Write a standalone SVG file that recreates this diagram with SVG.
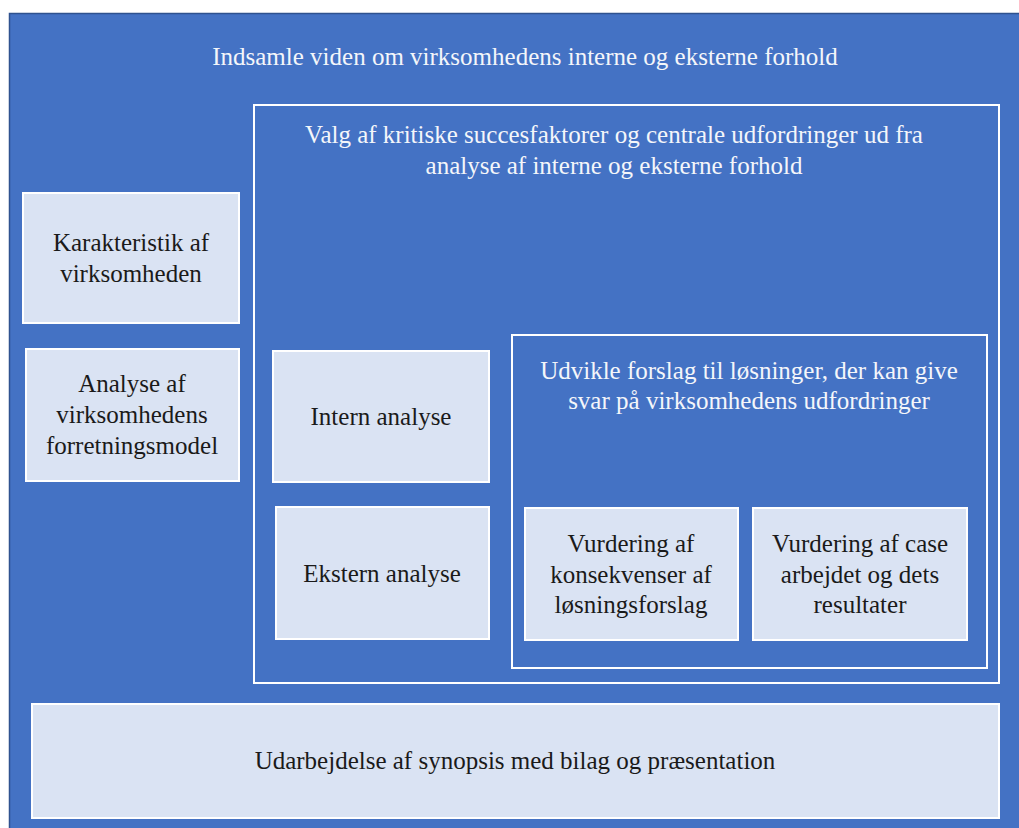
<svg xmlns="http://www.w3.org/2000/svg" width="1019" height="828" viewBox="0 0 1019 828">
<style>
.bg{fill:#4472C4;stroke:#2F528F;stroke-width:1.5}
.frame{fill:none;stroke:#FFFFFF;stroke-width:2}
.box{fill:#DAE3F3;stroke:#FFFFFF;stroke-width:2}
text{font-family:'Liberation Serif','Times New Roman','DejaVu Serif',serif;font-size:25px;text-anchor:middle}
.lt{fill:#F4F6FA}
.dk{fill:#1A1A1A}
</style>
<rect width="1019" height="828" fill="#FFFFFF"/>
<g id="outer">
<rect class="bg" x="9.5" y="13.5" width="1015" height="820"/>
<text class="lt" x="525" y="65">Indsamle viden om virksomhedens interne og eksterne forhold</text>
</g>
<g id="valg">
<rect class="frame" x="254" y="105" width="745" height="578"/>
<text class="lt" x="614" y="143">Valg af kritiske succesfaktorer og centrale udfordringer ud fra</text>
<text class="lt" x="614" y="174">analyse af interne og eksterne forhold</text>
</g>
<g id="udvikle">
<rect class="frame" x="512" y="335" width="475" height="333"/>
<text class="lt" x="749" y="379">Udvikle forslag til løsninger, der kan give</text>
<text class="lt" x="749" y="409">svar på virksomhedens udfordringer</text>
</g>
<g id="karakteristik">
<rect class="box" x="23" y="193" width="216" height="130"/>
<text class="dk" x="131" y="251">Karakteristik af</text>
<text class="dk" x="131" y="282">virksomheden</text>
</g>
<g id="forretningsmodel">
<rect class="box" x="26" y="349" width="213" height="132"/>
<text class="dk" x="132" y="392">Analyse af</text>
<text class="dk" x="132" y="423">virksomhedens</text>
<text class="dk" x="132" y="454">forretningsmodel</text>
</g>
<g id="intern">
<rect class="box" x="273" y="351" width="216" height="131"/>
<text class="dk" x="381" y="425">Intern analyse</text>
</g>
<g id="ekstern">
<rect class="box" x="276" y="507" width="213" height="132"/>
<text class="dk" x="382" y="582">Ekstern analyse</text>
</g>
<g id="konsekvenser">
<rect class="box" x="525" y="508" width="213" height="132"/>
<text class="dk" x="631" y="552">Vurdering af</text>
<text class="dk" x="631" y="583">konsekvenser af</text>
<text class="dk" x="631" y="613">løsningsforslag</text>
</g>
<g id="case">
<rect class="box" x="753" y="508" width="214" height="132"/>
<text class="dk" x="860" y="552">Vurdering af case</text>
<text class="dk" x="860" y="583">arbejdet og dets</text>
<text class="dk" x="860" y="613">resultater</text>
</g>
<g id="synopsis">
<rect class="box" x="32" y="704" width="967" height="114"/>
<text class="dk" x="515" y="769">Udarbejdelse af synopsis med bilag og præsentation</text>
</g>
</svg>
